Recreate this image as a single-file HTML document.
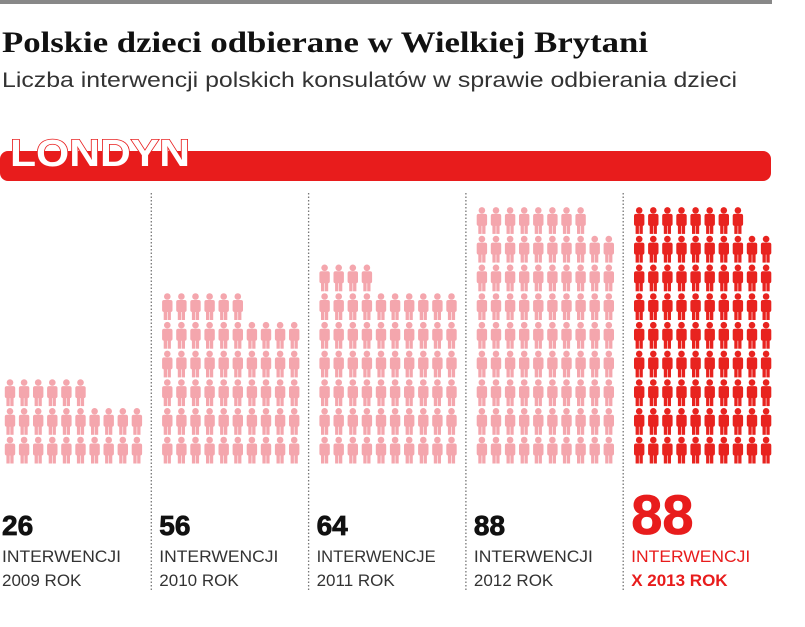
<!DOCTYPE html>
<html><head><meta charset="utf-8">
<style>
body{margin:0;width:805px;height:627px;background:#fff;overflow:hidden;font-family:"Liberation Sans",sans-serif;}
svg{display:block}
</style></head>
<body>
<svg id="chart" width="805" height="627">
  <rect x="0" y="0" width="772" height="4" fill="#888"/>
  <text x="2" y="52" font-family="Liberation Serif, serif" font-weight="bold" font-size="30" textLength="646" lengthAdjust="spacingAndGlyphs" fill="#111">Polskie dzieci odbierane w Wielkiej Brytani</text>
  <text x="2" y="87" font-size="21" textLength="735" lengthAdjust="spacingAndGlyphs" fill="#333">Liczba interwencji polskich konsulatów w sprawie odbierania dzieci</text>
  <rect x="0" y="151" width="771" height="30" rx="8" fill="#e81c1c"/>
  <text x="10" y="166" font-weight="bold" font-size="38" textLength="180" lengthAdjust="spacingAndGlyphs" fill="#fff" stroke="#e81c1c" stroke-width="1.5" style="paint-order:stroke">LONDYN</text>
  <g id="grid"></g>
</svg>
<script>
const years = ["2009 ROK","2010 ROK","2011 ROK","2012 ROK","X 2013 ROK"];
const values = [26,56,64,88,88];
const labels = ["INTERWENCJI","INTERWENCJI","INTERWENCJE","INTERWENCJI","INTERWENCJI"];

const svg = document.getElementById('grid');
const NS = "http://www.w3.org/2000/svg";
const colX = i => 5 + i*157.3;
const iconX = (c) => c*14.1;
const rowY = (r) => 450 - r*28.7;
function mk(tag, attrs){const e=document.createElementNS(NS,tag);for(const k in attrs)e.setAttribute(k,attrs[k]);return e;}

for(let i=0;i<values.length;i++){
  const last = i===values.length-1;
  const col = last ? "#e8231f" : "#f4a6ad";
  const g = mk('g',{});
  
  
  for(let k=0;k<values[i];k++){
    const r=Math.floor(k/10), c=k%10;
    const cx = colX(i)+iconX(c)+5, cy=rowY(r);
    const p = mk('g',{fill:col});
    
    
    p.appendChild(mk('circle',{cx:cx,cy:cy-10,r:3.3}));
    p.appendChild(mk('rect',{x:cx-5.2,y:cy-6.5,width:10.4,height:12,rx:2}));
    p.appendChild(mk('rect',{x:cx-3.6,y:cy+4,width:3.3,height:9.5}));
    p.appendChild(mk('rect',{x:cx+0.3,y:cy+4,width:3.3,height:9.5}));
    g.appendChild(p);
  }
  const x0 = colX(i)-3;
  const num = mk('text',{x:x0,y:last?534:535,'font-weight':'bold','font-size':last?56:28,fill:last?'#e81c1c':'#111',stroke:last?'#e81c1c':'#111','stroke-width':0.8});
  num.textContent = values[i];
  
  
  g.appendChild(num);
  const l1 = mk('text',{x:x0,y:562,'font-size':17,textLength:119,lengthAdjust:'spacingAndGlyphs',fill:last?'#e81c1c':'#333'});
  l1.textContent = labels[i];
  
  
  g.appendChild(l1);
  const l2 = mk('text',{x:x0,y:586,'font-size':17,fill:last?'#e81c1c':'#333','font-weight':last?'bold':'normal'});
  l2.textContent = years[i];
  
  
  g.appendChild(l2);
  svg.appendChild(g);
  if(i>0){
    const d = mk('line',{x1:colX(i)-11,x2:colX(i)-11,y1:193,y2:592,stroke:'#777','stroke-width':1.3,'stroke-dasharray':'1.5 2'});
    
    
    svg.appendChild(d);
  }
}
</script>
</body></html>
